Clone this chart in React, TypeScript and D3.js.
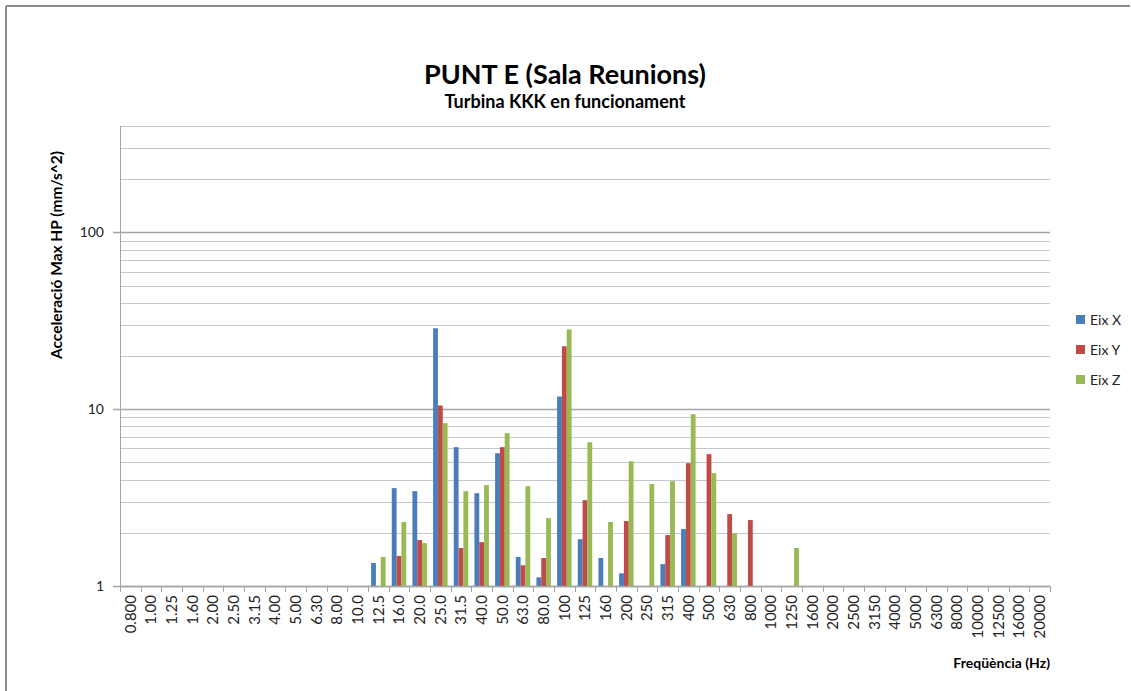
import React from 'react';
import * as d3 from 'd3';

const categories = [
  '0.800', '1.00', '1.25', '1.60', '2.00', '2.50', '3.15', '4.00', '5.00', '6.30',
  '8.00', '10.0', '12.5', '16.0', '20.0', '25.0', '31.5', '40.0', '50.0', '63.0',
  '80.0', '100', '125', '160', '200', '250', '315', '400', '500', '630',
  '800', '1000', '1250', '1600', '2000', '2500', '3150', '4000', '5000', '6300',
  '8000', '10000', '12500', '16000', '20000',
];

const _ = null;
// 0.800 ... 10.0 (12 empty), then 12.5 onwards
const eixX = [_, _, _, _, _, _, _, _, _, _, _, _,
  1.35, 3.58, 3.44, 28.7, 6.1, 3.35, 5.64, 1.46, 1.12, 11.8, 1.84, 1.44, 1.18, _, 1.33, 2.1, _, _,
  _, _, _, _, _, _, _, _, _, _, _, _, _, _, _];
const eixY = [_, _, _, _, _, _, _, _, _, _, _, _,
  _, 1.48, 1.82, 10.5, 1.64, 1.77, 6.1, 1.31, 1.44, 22.7, 3.06, _, 2.33, _, 1.94, 4.95, 5.57, 2.55,
  2.36, _, _, _, _, _, _, _, _, _, _, _, _, _, _];
const eixZ = [_, _, _, _, _, _, _, _, _, _, _, _,
  1.46, 2.3, 1.75, 8.34, 3.44, 3.72, 7.32, 3.67, 2.42, 28.3, 6.5, 2.3, 5.08, 3.77, 3.92, 9.37, 4.35, 1.99,
  _, _, 1.64, _, _, _, _, _, _, _, _, _, _, _, _];

const seriesNames = ['Eix X', 'Eix Y', 'Eix Z'];
const seriesColors = ['#4a7ebb', '#be4b48', '#98b954'];
const yTickLabels = [1, 10, 100];

const W = 1131;
const H = 691;
const FONT = 'Lato, "Open Sans", sans-serif';

export default function App() {
  const m = { left: 120, right: 1050, top: 126, bottom: 586 };
  const x = d3.scaleBand<string>().domain(categories).range([m.left, m.right]).padding(0);
  const inner = d3.scaleBand<number>().domain([0, 1, 2]).range([x.bandwidth() * 0.15, x.bandwidth() * 0.85]).padding(0);
  const y = d3.scaleLog().domain([1, 400]).range([m.bottom, m.top]);

  const minor: number[] = [];
  [1, 10, 100].forEach(d => {
    for (let k = 2; k <= 9; k++) if (d * k <= 400) minor.push(d * k);
  });

  const series = [eixX, eixY, eixZ];

  return (
    <svg width={W} height={H} style={{ position: 'absolute', left: 0, top: 0, background: '#fff' }} fontFamily={FONT}>
      {/* frame */}
      <line x1={6} x2={1130} y1={6} y2={6} stroke="#8a8e90" strokeWidth={2} />
      <line x1={6} x2={6} y1={6} y2={691} stroke="#8a8e90" strokeWidth={2} />

      <text x={565} y={84} textAnchor="middle" fontSize={27} fontWeight={700} fill="#000">PUNT E (Sala Reunions)</text>
      <text x={565} y={108} textAnchor="middle" fontSize={18} fontWeight={700} fill="#000">Turbina KKK en funcionament</text>

      {/* gridlines */}
      {minor.map(v => (
        <line key={'mi' + v} x1={m.left} x2={m.right} y1={Math.round(y(v)) + 0.5} y2={Math.round(y(v)) + 0.5} stroke="#c1c9d0" strokeWidth={1} />
      ))}
      {yTickLabels.map(v => (
        <g key={'ma' + v}>
          <line x1={m.left - 7} x2={m.right} y1={Math.round(y(v)) + 0.5} y2={Math.round(y(v)) + 0.5} stroke="#a2a6a8" strokeWidth={1.5} />
          <text x={m.left - 16} y={y(v)} dy="0.35em" textAnchor="end" fontSize={14} fill="#222">{v}</text>
        </g>
      ))}
      <line x1={m.left + 0.5} x2={m.left + 0.5} y1={m.top} y2={m.bottom} stroke="#a2a6a8" strokeWidth={1} />

      {/* bars */}
      {series.map((vals, si) => (
        <g key={seriesNames[si]} fill={seriesColors[si]}>
          {vals.map((v, i) => v == null || v <= 1 ? null : (
            <rect key={i} x={(x(categories[i]) as number) + (inner(si) as number)} width={inner.bandwidth()}
              y={y(v)} height={y(1) - y(v)} />
          ))}
        </g>
      ))}

      {/* x axis */}
      <line x1={m.left} x2={m.right} y1={m.bottom + 0.5} y2={m.bottom + 0.5} stroke="#a2a6a8" strokeWidth={1.5} />
      {categories.map((c, i) => (
        <line key={'t' + i} x1={Math.round((x(c) as number) + x.bandwidth()) + 0.5} x2={Math.round((x(c) as number) + x.bandwidth()) + 0.5}
          y1={m.bottom} y2={m.bottom + 6} stroke="#a2a6a8" />
      ))}
      <line x1={m.left + 0.5} x2={m.left + 0.5} y1={m.bottom} y2={m.bottom + 6} stroke="#a2a6a8" />
      {categories.map(c => {
        const cx = (x(c) as number) + x.bandwidth() / 2;
        return (
          <text key={'l' + c} transform={`translate(${cx},595) rotate(-90)`} textAnchor="end" dy="0.35em" fontSize={15} fill="#222">{c}</text>
        );
      })}

      <text transform="translate(62,255) rotate(-90)" textAnchor="middle" fontSize={15.5} fontWeight={700} fill="#000">Acceleració Max HP (mm/s^2)</text>
      <text x={1050} y={668} textAnchor="end" fontSize={14} fontWeight={700} fill="#000">Freqüència (Hz)</text>

      {/* legend */}
      {seriesNames.map((n, i) => (
        <g key={'lg' + n} transform={`translate(1076,${320 + i * 30})`}>
          <rect x={0} y={-5} width={9} height={9} fill={seriesColors[i]} />
          <text x={14} y={0} dy="0.35em" fontSize={14} fill="#222">{n}</text>
        </g>
      ))}
    </svg>
  );
}
